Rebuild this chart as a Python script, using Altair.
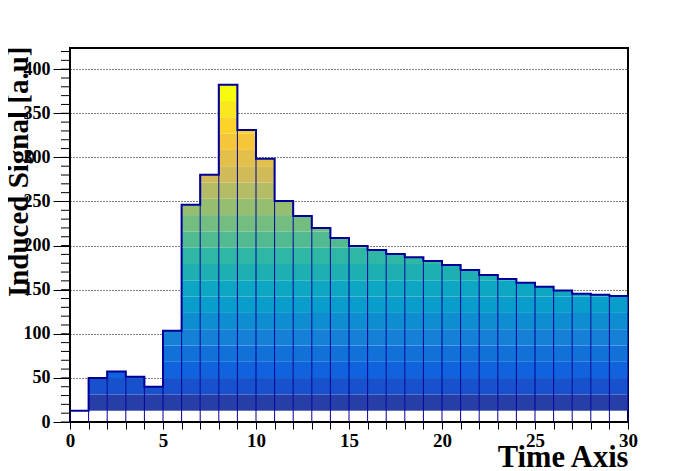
import altair as alt
import pandas as pd

# ---- data ----
bin_lo = list(range(30))
signal = [12.8, 50.0, 57.3, 51.3, 39.9, 103.5, 246.3, 280.4, 382.4, 331.0,
          298.5, 250.6, 233.6, 220.0, 208.6, 199.5, 195.0, 190.5, 186.7, 182.5,
          178.0, 172.3, 166.7, 162.0, 158.0, 153.4, 149.0, 145.5, 144.3, 142.9]
y_major = list(range(0, 401, 50))
y_minor = list(range(0, 421, 10))
x_ticks = list(range(0, 31))

# ---- ROOT kBird palette ----
stops = [0.0, 0.125, 0.25, 0.375, 0.5, 0.625, 0.75, 0.875, 1.0]
red = [0.2082, 0.0592, 0.0780, 0.0232, 0.1802, 0.5301, 0.8186, 0.9956, 0.9764]
green = [0.1664, 0.3599, 0.5041, 0.6419, 0.7178, 0.7492, 0.7328, 0.7862, 0.9832]
blue = [0.5293, 0.8684, 0.8385, 0.7914, 0.6425, 0.4662, 0.3499, 0.1968, 0.0539]


def bird(p):
    for s in range(len(stops) - 1):
        if stops[s] <= p <= stops[s + 1]:
            f = (p - stops[s]) / (stops[s + 1] - stops[s])
            r = red[s] + f * (red[s + 1] - red[s])
            g = green[s] + f * (green[s + 1] - green[s])
            b = blue[s] + f * (blue[s + 1] - blue[s])
            return "#%02x%02x%02x" % (round(r * 255), round(g * 255), round(b * 255))
    return "#f9fb0e"


ndiv = 20
ncol = 255
level_colors = [bird(int(0.01 + (k + 0.99) * ncol / ndiv) / (ncol - 1)) for k in range(ndiv)]

zmin, zmax = min(signal), max(signal)
w = (zmax - zmin) / ndiv
band_rows = []
for i, v in zip(bin_lo, signal):
    for k in range(ndiv):
        lo = zmin + k * w
        if lo >= v:
            break
        hi = min(zmin + (k + 1) * w, v)
        band_rows.append(dict(x0=i, x1=i + 1, y0=lo, y1=hi, col=level_colors[k]))
bands = pd.DataFrame(band_rows)

edge_rows = []
for k in range(31):
    left = signal[k - 1] if k > 0 else 0
    right = signal[k] if k < 30 else 0
    edge_rows.append(dict(x0=k, y0=0, y1=max(left, right)))
edges = pd.DataFrame(edge_rows)

step = pd.DataFrame({"x0": x_ticks, "y0": signal + [signal[-1]]})
minor = pd.DataFrame({"y0": y_minor})

FONT = "Liberation Serif"
LINE = "#000099"

xscale = alt.Scale(domain=[0, 30], nice=False, zero=False)
yscale = alt.Scale(domain=[0, 424], nice=False)

xaxis = alt.Axis(values=x_ticks, title="Time Axis",
                 labelExpr="datum.value % 5 == 0 ? datum.label : ''",
                 labelOverlap=False, labelBound=False, labelFlush=False,
                 ticks=True, tickSize=7, tickWidth=1, labelPadding=2, grid=False, domain=False,
                 labelFont=FONT, labelFontSize=19, labelFontWeight="bold",
                 labelColor="black", tickColor="black",
                 titleFont=FONT, titleFontSize=30.5, titleFontWeight="bold",
                 titleColor="black", titleAlign="right", titleAnchor="end",
                 titleBaseline="alphabetic", titleX=558, titleY=44)
yaxis = alt.Axis(values=y_major, title="Induced Signal [a.u]",
                 labelOverlap=False, labelBound=False, labelFlush=False,
                 ticks=True, tickSize=17, tickWidth=1, labelPadding=3, domain=False,
                 grid=True, gridColor="black", gridDash=[1, 2], gridWidth=1,
                 gridOpacity=1,
                 labelFont=FONT, labelFontSize=18, labelFontWeight="bold",
                 labelColor="black", tickColor="black",
                 titleFont=FONT, titleFontSize=29, titleFontWeight="bold",
                 titleColor="black", titleAngle=270, titleAlign="right",
                 titleAnchor="end", titleBaseline="alphabetic",
                 titleX=-42.5, titleY=-2)

X = lambda f: alt.X(f, scale=xscale, axis=xaxis)
Y = lambda f: alt.Y(f, scale=yscale, axis=yaxis)

base_bands = alt.Chart(bands).mark_rect(strokeWidth=0).encode(
    x=X("x0:Q"), x2="x1:Q",
    y=Y("y0:Q"), y2="y1:Q",
    color=alt.Color("col:N", scale=None),
)

thin = alt.Chart(edges).mark_rule(color=LINE, strokeWidth=1).encode(
    x=X("x0:Q"),
    y=Y("y0:Q"), y2="y1:Q",
)

envelope = alt.Chart(step).mark_line(color=LINE, strokeWidth=2, interpolate="step-after").encode(
    x=X("x0:Q"),
    y=Y("y0:Q"),
)

minor_ticks = alt.Chart(minor).mark_rule(color="black", strokeWidth=1).encode(
    x=alt.value(-9),
    x2=alt.value(0),
    y=Y("y0:Q"),
)

chart = alt.layer(base_bands, thin, envelope, minor_ticks).properties(
    width=558, height=374,
    autosize=alt.AutoSizeParams(type="none"),
    padding={"left": 62, "top": 40, "right": 20, "bottom": 49},
    background="white",
).configure_view(stroke="black", strokeWidth=2)

chart.save("out.html", embed_options={"renderer": "svg", "actions": False})
